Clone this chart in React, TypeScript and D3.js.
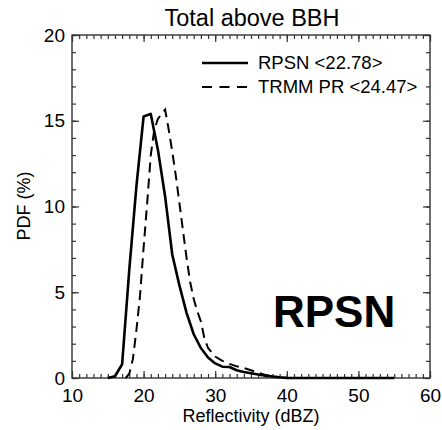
import React, { useEffect, useRef } from "react";
import * as d3 from "d3";

// RPSN, 1 dBZ bins
const rpsnX = [15, 16, 17, 18, 19, 20, 21, 22, 23, 24, 25, 26, 27, 28, 29, 30, 31, 32, 33, 34, 35, 36, 37, 38, 39, 40, 41, 42, 43, 44, 45, 46, 47, 48, 49, 50, 51, 52, 53, 54, 55];
const rpsnY = [0, 0.1, 0.8, 6.3, 11.2, 15.25, 15.4, 13.3, 10.6, 7.2, 5.4, 3.8, 2.55, 1.75, 1.2, 0.85, 0.66, 0.64, 0.45, 0.35, 0.28, 0.2, 0.14, 0.09, 0.04, 0.01, 0, 0, 0, 0, 0, 0, 0, 0, 0, 0, 0, 0, 0, 0, 0];

// TRMM PR
const trmmX = [17.5, 18, 18.5, 19, 19.5, 20, 20.5, 21, 21.5, 22, 22.5, 23, 23.5, 24, 24.5, 25, 25.5, 26, 26.5, 27, 27.5, 28, 28.5, 29, 30, 31, 32, 33, 34, 35, 36, 37, 38, 39];
const trmmY = [0, 0.25, 1.1, 2.8, 4.8, 7.6, 10.2, 13.0, 14.5, 15.1, 15.4, 15.65, 14.5, 13.2, 11.8, 10.2, 8.6, 7.0, 5.6, 4.6, 3.9, 3.3, 2.3, 1.75, 1.25, 1.0, 0.82, 0.68, 0.58, 0.45, 0.3, 0.18, 0.1, 0.03];

const xTicks = [10, 20, 30, 40, 50, 60];
const yTicks = [0, 5, 10, 15, 20];
const legendLabels = ["RPSN <22.78>", "TRMM PR <24.47>"];

const W = 442, H = 430;
const margin = { top: 35, right: 12, bottom: 52, left: 72 };
const FONT = "'Liberation Sans', Arial, sans-serif";

export default function App() {
  const ref = useRef<SVGSVGElement>(null);

  useEffect(() => {
    const svg = d3.select(ref.current);
    svg.selectAll("*").remove();

    const width = W - margin.left - margin.right;
    const height = H - margin.top - margin.bottom;

    const x = d3.scaleLinear().domain([10, 60]).range([0, width]);
    const y = d3.scaleLinear().domain([0, 20]).range([height, 0]);

    const g = svg.append("g")
      .attr("transform", "translate(" + margin.left + "," + margin.top + ")");

    const minorX = d3.range(10, 61, 1);
    const minorY = d3.range(0, 21, 1);

    const axes: any[] = [
      [d3.axisBottom(x).tickValues(minorX).tickSize(-4).tickFormat(() => ""), height],
      [d3.axisBottom(x).tickValues(xTicks).tickSize(-7).tickPadding(11).tickFormat(d3.format("d")), height],
      [d3.axisTop(x).tickValues(minorX).tickSize(-4).tickFormat(() => ""), 0],
      [d3.axisTop(x).tickValues(xTicks).tickSize(-7).tickFormat(() => ""), 0],
    ];
    axes.forEach(([ax, ty]) => {
      const a = g.append("g").attr("transform", "translate(0," + ty + ")").call(ax);
      a.select(".domain").remove();
      a.selectAll("line").attr("stroke", "#333").attr("stroke-width", 1.2);
      a.selectAll("text").attr("font-size", 19).attr("font-family", FONT).attr("fill", "#000");
    });

    const yAxes: any[] = [
      [d3.axisLeft(y).tickValues(minorY).tickSize(-4).tickFormat(() => ""), 0],
      [d3.axisLeft(y).tickValues(yTicks).tickSize(-7).tickPadding(7).tickFormat(d3.format("d")), 0],
      [d3.axisRight(y).tickValues(minorY).tickSize(-4).tickFormat(() => ""), width],
      [d3.axisRight(y).tickValues(yTicks).tickSize(-7).tickFormat(() => ""), width],
    ];
    yAxes.forEach(([ax, tx]) => {
      const a = g.append("g").attr("transform", "translate(" + tx + ",0)").call(ax);
      a.select(".domain").remove();
      a.selectAll("line").attr("stroke", "#333").attr("stroke-width", 1.2);
      a.selectAll("text").attr("font-size", 19).attr("font-family", FONT).attr("fill", "#000");
    });

    g.append("rect")
      .attr("width", width).attr("height", height)
      .attr("fill", "none").attr("stroke", "#333").attr("stroke-width", 1.4);

    const line = d3.line<[number, number]>()
      .x(d => x(d[0])).y(d => y(d[1]));

    g.append("path")
      .datum(d3.zip(trmmX, trmmY) as [number, number][])
      .attr("d", line)
      .attr("fill", "none").attr("stroke", "#000")
      .attr("stroke-width", 2).attr("stroke-dasharray", "10,6");

    g.append("path")
      .datum(d3.zip(rpsnX, rpsnY) as [number, number][])
      .attr("d", line)
      .attr("fill", "none").attr("stroke", "#000")
      .attr("stroke-width", 2.6).attr("stroke-linejoin", "round");

    // legend
    const leg = g.append("g").attr("transform", "translate(130,28)");
    legendLabels.forEach((lab, i) => {
      leg.append("line")
        .attr("x1", 0).attr("x2", 46).attr("y1", i * 24).attr("y2", i * 24)
        .attr("stroke", "#000").attr("stroke-width", i === 0 ? 2.6 : 2)
        .attr("stroke-dasharray", i === 0 ? null : "10,7.5");
      leg.append("text")
        .attr("x", 56).attr("y", i * 24).attr("dy", "0.35em")
        .attr("font-size", 18.5).attr("font-family", FONT).text(lab);
    });

    g.append("text")
      .attr("x", 201).attr("y", 327 - margin.top)
      .attr("font-size", 44).attr("font-weight", "bold").attr("font-family", FONT)
      .text("RPSN");

    svg.append("text")
      .attr("x", margin.left + width / 2 + 1).attr("y", 26)
      .attr("text-anchor", "middle").attr("font-size", 23.5).attr("font-family", FONT)
      .text("Total above BBH");

    svg.append("text")
      .attr("x", margin.left + width / 2).attr("y", 422)
      .attr("text-anchor", "middle").attr("font-size", 18).attr("font-family", FONT)
      .text("Reflectivity (dBZ)");

    svg.append("text")
      .attr("transform", "translate(30,206) rotate(-90)")
      .attr("text-anchor", "middle").attr("font-size", 18).attr("font-family", FONT)
      .text("PDF (%)");
  }, []);

  return (
    <svg ref={ref} width={W} height={H}
      style={{ position: "absolute", left: 0, top: 0, background: "#fff" }} />
  );
}
